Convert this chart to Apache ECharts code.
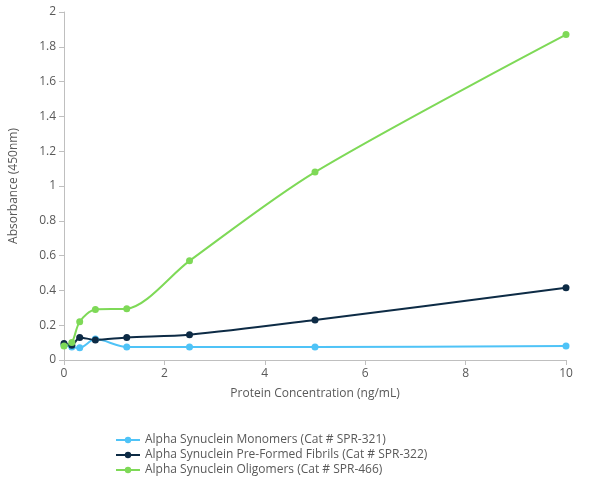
<!DOCTYPE html><html><head><meta charset="utf-8"><script src="https://cdn.jsdelivr.net/npm/echarts@6/dist/echarts.min.js"></script></head><body style="margin:0"><div id="c" style="width:590px;height:489px"></div><script>
const xs=[0,0.156,0.3125,0.625,1.25,2.5,5,10];
const names=['Alpha Synuclein Monomers (Cat # SPR-321)','Alpha Synuclein Pre-Formed Fibrils (Cat # SPR-322)','Alpha Synuclein Oligomers (Cat # SPR-466)'];
const mono=[0.085,0.075,0.07,0.12,0.075,0.075,0.075,0.08];
const pff=[0.095,0.085,0.13,0.115,0.13,0.145,0.23,0.415];
const olig=[0.08,0.1,0.22,0.29,0.295,0.57,1.08,1.87];
const colors=['#4fc3f7','#0d2b45','#7ed957'];
const c=echarts.init(document.getElementById('c'));
const txt={fontFamily:'Open Sans',color:'#595959',fontSize:12};
c.setOption({
grid:{left:63,right:24,top:12,bottom:129},
legend:{orient:'vertical',left:110,top:429,itemGap:3,itemWidth:24,itemHeight:8,textStyle:txt,data:names},
xAxis:{type:'value',min:0,max:10,interval:2,name:'Protein Concentration (ng/mL)',nameLocation:'middle',nameGap:28,nameTextStyle:txt,axisLabel:txt,axisLine:{lineStyle:{color:'#bfbfbf'}},axisTick:{show:true,lineStyle:{color:'#bfbfbf'}},splitLine:{show:false}},
yAxis:{type:'value',min:0,max:2,interval:0.2,name:'Absorbance (450nm)',nameLocation:'middle',nameGap:44,nameTextStyle:txt,axisLabel:txt,axisLine:{show:true,lineStyle:{color:'#bfbfbf'}},axisTick:{show:true,lineStyle:{color:'#bfbfbf'}},splitLine:{show:false}},
series:[mono,pff,olig].map((d,i)=>({name:names[i],type:'line',smooth:0.3,symbol:'circle',symbolSize:7,color:colors[i],lineStyle:{width:2},data:xs.map((x,j)=>[x,d[j]])}))
});
</script></body></html>
